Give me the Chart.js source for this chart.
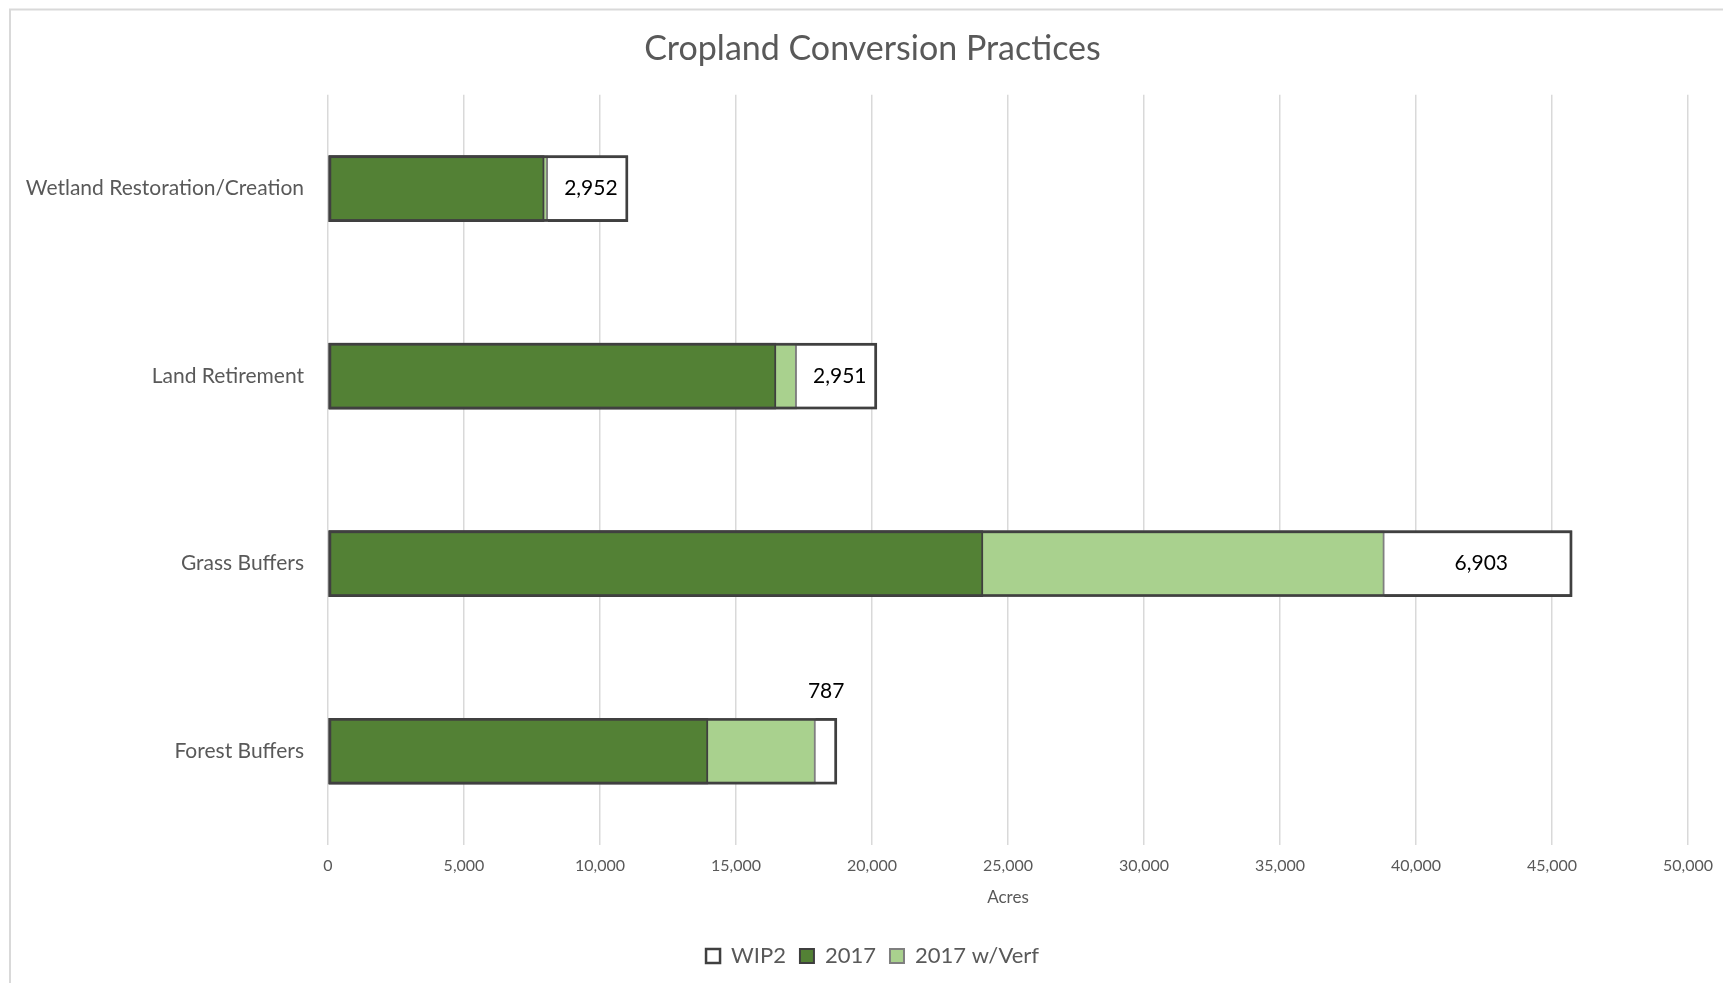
<!DOCTYPE html>
<html>
<head>
<meta charset="utf-8">
<title>Cropland Conversion Practices</title>
<script src="https://cdn.jsdelivr.net/npm/chart.js@4"></script>
<style>
  html, body { margin: 0; padding: 0; background: #fff; overflow: hidden; }
  #wrap { position: relative; width: 1745px; height: 983px; }
</style>
</head>
<body>
<div id="wrap"><canvas id="cropChart"></canvas></div>
<script>
"use strict";

// Practices, top to bottom
const practices = ["Wetland Restoration/Creation", "Land Retirement", "Grass Buffers", "Forest Buffers"];
// WIP2 goal (acres)
const wip2Goal = [11030, 20180, 45740, 18710];
// 2017 progress (acres)
const progress2017 = [7950, 16470, 24080, 13970];
// Acres still needed to reach WIP2 after verification
const remaining = [2952, 2951, 6903, 787];
// 2017 with verification = goal minus what remains
const progressVerf = wip2Goal.map((v, i) => v - remaining[i]);

const xTicks = [0, 5000, 10000, 15000, 20000, 25000, 30000, 35000, 40000, 45000, 50000];

const FONT = "Lato, 'Open Sans', sans-serif";
const GRAY = "#595959";
const fmt = (n) => n.toLocaleString("en-US");

// light frame around the whole figure
const framePlugin = {
  id: "frame",
  beforeDraw(chart) {
    const ctx = chart.ctx;
    ctx.save();
    ctx.fillStyle = "#fff";
    ctx.fillRect(0, 0, chart.width, chart.height);
    ctx.strokeStyle = "#d9d9d9";
    ctx.lineWidth = 2;
    ctx.strokeRect(10, 9.5, chart.width + 50, chart.height + 50);
    ctx.restore();
  },
};

// redraw the WIP2 outline on top of the green bars, then the remaining-acres labels
const wipPlugin = {
  id: "wipOutline",
  afterDatasetsDraw(chart) {
    const ctx = chart.ctx;
    const meta = chart.getDatasetMeta(0);
    const xs = chart.scales.x;
    ctx.save();
    ctx.strokeStyle = "#404040";
    ctx.lineWidth = 2.5;
    meta.data.forEach((bar) => {
      const { x, y, base, height } = bar.getProps(["x", "y", "base", "height"], true);
      ctx.strokeRect(base + 1.25, y - height / 2 + 1.25, x - base - 2.5, height - 2.5);
    });

    ctx.fillStyle = "#000";
    ctx.font = "21px " + FONT;
    ctx.textAlign = "center";
    ctx.textBaseline = "middle";
    meta.data.forEach((bar, i) => {
      const { y, height } = bar.getProps(["y", "height"], true);
      const x0 = xs.getPixelForValue(progressVerf[i]);
      const x1 = xs.getPixelForValue(wip2Goal[i]);
      const txt = fmt(remaining[i]);
      const w = ctx.measureText(txt).width;
      const cx = (x0 + x1) / 2;
      if (x1 - x0 > w + 10) {
        ctx.fillText(txt, cx + 3, y);
      } else {
        ctx.fillText(txt, cx, y - height / 2 - 27);
      }
    });
    ctx.restore();
  },
};

new Chart(document.getElementById("cropChart"), {
  type: "bar",
  data: {
    labels: practices,
    datasets: [
      {
        label: "WIP2",
        data: wip2Goal,
        backgroundColor: "#ffffff",
        borderColor: "#404040",
        borderWidth: 2.5,
        order: 3,
      },
      {
        label: "2017",
        data: progress2017,
        backgroundColor: "#538135",
        borderColor: "#3f3f3f",
        borderWidth: 2,
        order: 1,
      },
      {
        label: "2017 w/Verf",
        data: progressVerf,
        backgroundColor: "#a9d18e",
        borderColor: "#7f7f7f",
        borderWidth: 2,
        order: 2,
      },
    ],
  },
  options: {
    indexAxis: "y",
    responsive: true,
    maintainAspectRatio: false,
    animation: false,
    datasets: {
      bar: { grouped: false, barThickness: 66, borderSkipped: false },
    },
    layout: { padding: { left: 0, right: 0, top: 0, bottom: 6 } },
    plugins: {
      title: {
        display: true,
        text: "Cropland Conversion Practices",
        color: GRAY,
        font: { family: FONT, size: 34, weight: "normal" },
        padding: { top: 29, bottom: 25 },
      },
      legend: {
        position: "bottom",
        labels: {
          color: GRAY,
          font: { family: FONT, size: 22 },
          boxWidth: 14,
          boxHeight: 14,
          padding: 14,
          sort: (a, b) => a.datasetIndex - b.datasetIndex,
        },
      },
      tooltip: { enabled: false },
    },
    scales: {
      x: {
        min: 0,
        max: 50000,
        afterBuildTicks: (scale) => {
          scale.ticks = xTicks.map((v) => ({ value: v }));
        },
        afterFit: (scale) => {
          scale.height = 86;
        },
        ticks: {
          color: GRAY,
          font: { family: FONT, size: 16 },
          padding: 11,
          maxRotation: 0,
          callback: (v) => fmt(v),
        },
        grid: { color: "#d9d9d9", lineWidth: 1.5, drawTicks: false },
        border: { display: false },
        title: {
          display: true,
          text: "Acres",
          color: GRAY,
          font: { family: FONT, size: 17 },
          padding: { top: 6, bottom: 23 },
        },
      },
      y: {
        afterFit: (scale) => {
          scale.width = 328;
        },
        ticks: {
          color: GRAY,
          font: { family: FONT, size: 21 },
          padding: 16,
        },
        grid: { display: false },
        border: { display: false },
      },
      // empty right-hand margin so the plot ends at 50,000 while title and legend stay centred
      yRight: {
        position: "right",
        afterFit: (scale) => {
          scale.width = 57;
        },
        ticks: { display: false },
        grid: { display: false },
        border: { display: false },
      },
    },
  },
  plugins: [framePlugin, wipPlugin],
});
</script>
</body>
</html>
